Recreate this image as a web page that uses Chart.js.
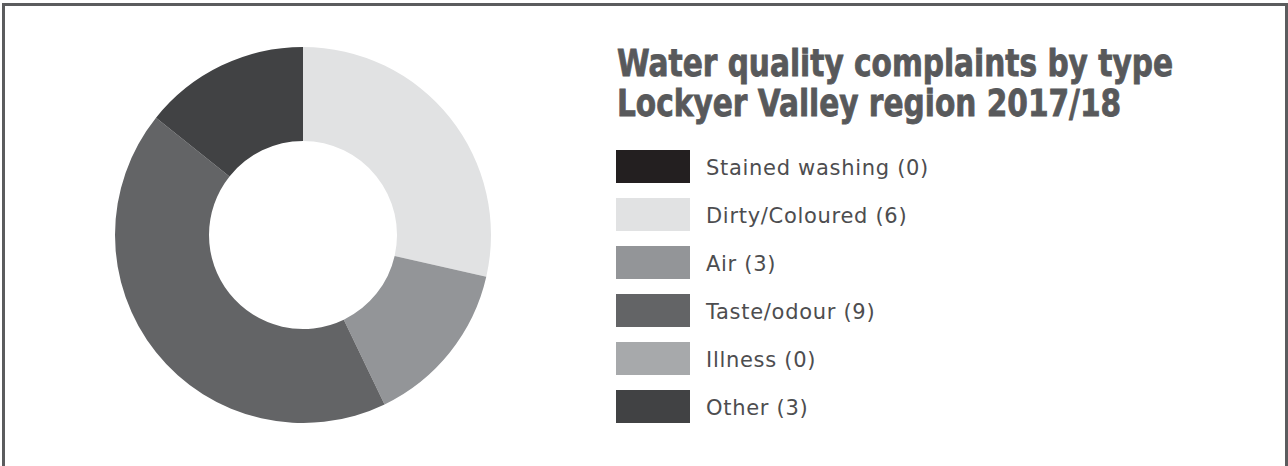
<!DOCTYPE html>
<html lang="en">

<head>
    <meta charset="UTF-8">
    <title>Water quality complaints by type</title>
    <script src="https://cdn.jsdelivr.net/npm/chart.js@4/dist/chart.umd.min.js"></script>
    <style>
        body { margin: 0; background: #fff; width: 1288px; height: 466px; overflow: hidden; position: relative; }
        .frame { position: absolute; left: 2px; top: 3px; width: 1280px; height: 470px; border: 3px solid #5b5c5e; }
        .chartBox { position: absolute; left: 115px; top: 47px; width: 376px; height: 376px; }
        .title { position: absolute; left: 617px; top: 43px; font-family: "DejaVu Sans Condensed", "DejaVu Sans"; font-weight: bold;
                 font-size: 38px; line-height: 40px; color: #58595b; white-space: nowrap; transform-origin: left top;
                 -webkit-text-stroke: 0.8px #58595b; }
        .legend { position: absolute; left: 616px; top: 150px; }
        .legend-item { height: 48px; display: flex; align-items: flex-start; }
        .legend-box { width: 74px; height: 33px; margin-right: 16px; }
        .legend-text { font-family: "DejaVu Sans"; font-size: 21px; letter-spacing: 0.7px; line-height: 33px; padding-top: 2px; color: #4d4d4f; }
    </style>
</head>

<body>
    <div class="frame"></div>
    <div class="chartBox">
        <canvas id="myChart"></canvas>
    </div>
    <div class="title" id="title"></div>
    <div class="legend" id="legend"></div>
    <script>
        const titleLines = ['Water quality complaints by type', 'Lockyer Valley region 2017/18'];
        const labels = ['Stained washing', 'Dirty/Coloured', 'Air', 'Taste/odour', 'Illness', 'Other'];
        const counts = [0, 6, 3, 9, 0, 3];
        const colours = ['#231f20', '#e1e2e3', '#939598', '#636466', '#a7a9ab', '#414244'];

        // Title, squeezed to the width of the original heading
        const titleEl = document.getElementById('title');
        titleEl.innerHTML = titleLines.join('<br>');
        const scale = 556 / titleEl.getBoundingClientRect().width;
        titleEl.style.transform = `scaleX(${scale})`;

        // Legend built from the same arrays
        const legendEl = document.getElementById('legend');
        labels.forEach((label, i) => {
            const item = document.createElement('div');
            item.className = 'legend-item';
            const box = document.createElement('div');
            box.className = 'legend-box';
            box.style.background = colours[i];
            const text = document.createElement('span');
            text.className = 'legend-text';
            text.textContent = `${label} (${counts[i]})`;
            item.appendChild(box);
            item.appendChild(text);
            legendEl.appendChild(item);
        });

        const myChart = new Chart(document.getElementById('myChart'), {
            type: 'doughnut',
            data: {
                labels: labels,
                datasets: [{
                    data: counts,
                    backgroundColor: colours,
                    borderWidth: 0
                }]
            },
            options: {
                responsive: true,
                maintainAspectRatio: false,
                animation: false,
                cutout: '50%',
                layout: { padding: 0 },
                plugins: {
                    legend: { display: false },
                    tooltip: { enabled: false }
                }
            }
        });
    </script>
</body>

</html>
